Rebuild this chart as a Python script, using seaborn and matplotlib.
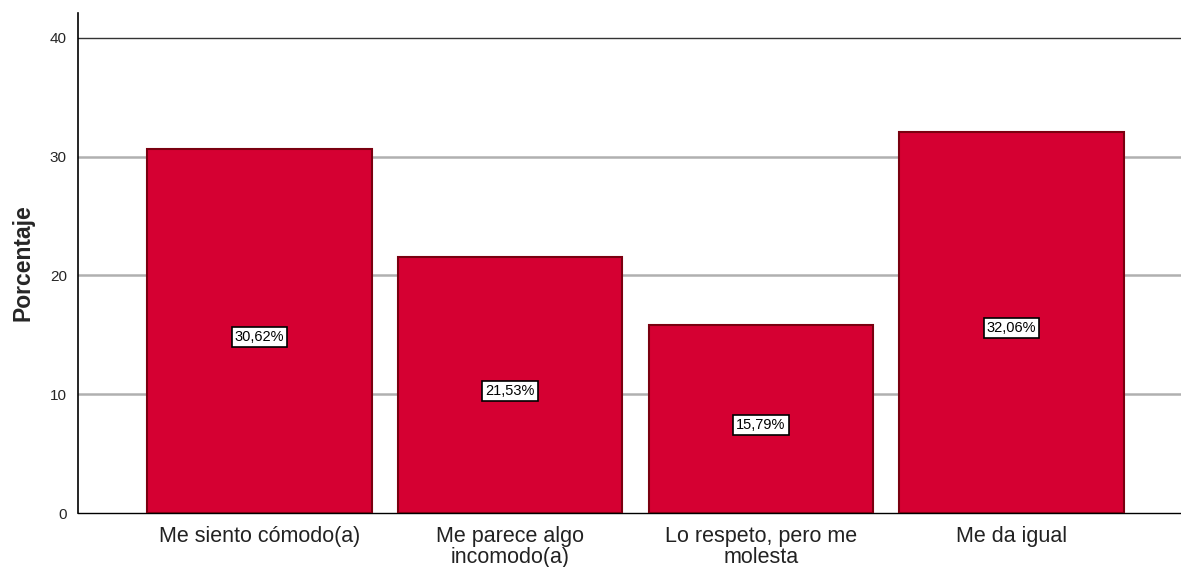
import numpy as np
import pandas as pd
import matplotlib
matplotlib.use('Agg')
import matplotlib.pyplot as plt
import seaborn as sns

categories = ['Me siento cómodo(a)', 'Me parece algo\nincomodo(a)',
              'Lo respeto, pero me\nmolesta', 'Me da igual']
percentages = [30.62, 21.53, 15.79, 32.06]
y_ticks = [0, 10, 20, 30, 40]

sns.set_style('white')
plt.rcParams['font.family'] = ['Liberation Sans', 'DejaVu Sans']

df = pd.DataFrame({'Categoria': categories, 'Porcentaje': percentages})

fig = plt.figure(figsize=(11.81, 5.67), dpi=100)
ax = fig.add_axes([0.066, 0.0952, 0.934, 0.882])

sns.barplot(data=df, x='Categoria', y='Porcentaje', color='#D50032',
            edgecolor='#7A0010', linewidth=1.5, width=0.896, saturation=1,
            ax=ax, zorder=3)

ax.set_ylim(0, 42.1)
ax.set_xlim(-0.723, 3.675)
ax.set_yticks(y_ticks)
for t in y_ticks[1:4]:
    ax.axhline(t, color='#b0b0b0', linewidth=1.8, zorder=1)
ax.axhline(40, color='#333333', linewidth=1.0, zorder=1)

# value labels sit a little below the bar's mid-height, like SPSS
for i, v in enumerate(percentages):
    ax.annotate(f'{v:.2f}%'.replace('.', ','), xy=(i, v / 2), xytext=(0, -4),
                textcoords='offset points', ha='center', va='center',
                fontsize=10.5, color='black', zorder=5,
                bbox=dict(boxstyle='square,pad=0.2', facecolor='white',
                          edgecolor='black', linewidth=1.2))

ax.set_xlabel('')
ax.set_ylabel('Porcentaje', fontsize=16.5, fontweight='bold', labelpad=11)
ax.tick_params(axis='y', labelsize=11, length=0, pad=8)
ax.tick_params(axis='x', labelsize=15.5, length=0, pad=9, labelcolor='#222222')
for lbl in ax.get_xticklabels():
    lbl.set_linespacing(1.0)

sns.despine(ax=ax, top=True, right=True)
ax.spines['left'].set_color('black')
ax.spines['left'].set_linewidth(1.2)
ax.spines['bottom'].set_color('black')
ax.spines['bottom'].set_linewidth(1.0)

fig.savefig('out.png', dpi=100)
